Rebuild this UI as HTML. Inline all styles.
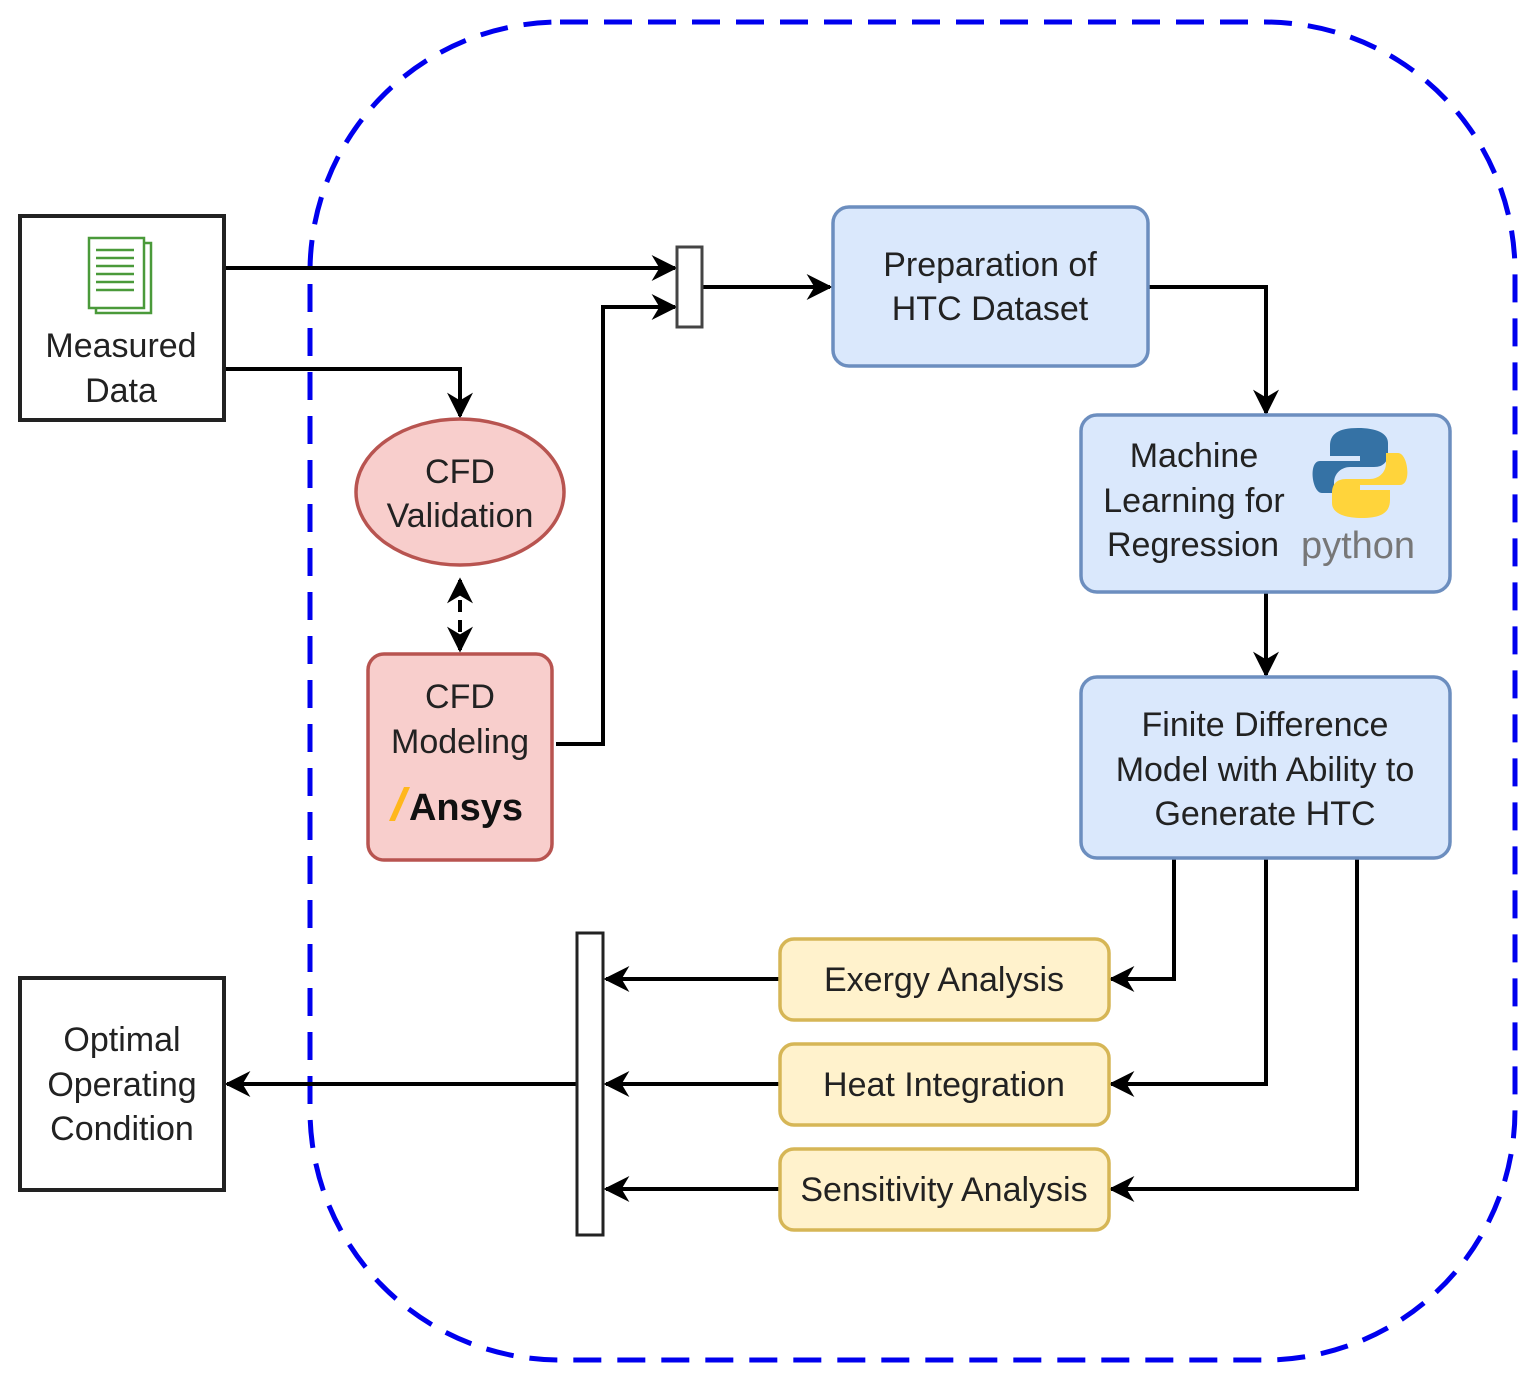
<!DOCTYPE html>
<html><head><meta charset="utf-8"><style>body{margin:0;background:#fff}svg{display:block}text{font-family:"Liberation Sans",sans-serif;fill:#222;font-size:34px;text-anchor:middle}</style></head>
<body>
<svg width="1539" height="1386" viewBox="0 0 1539 1386" xmlns="http://www.w3.org/2000/svg">
<defs>
<marker id="a" viewBox="0 0 10 10" refX="9" refY="5" markerWidth="7" markerHeight="7" orient="auto-start-reverse" markerUnits="userSpaceOnUse" style="overflow:visible">
<path d="M0,0 L10,5 L0,10 L3,5 Z" fill="#000"/></marker>
<marker id="b" viewBox="0 0 10 10" refX="9" refY="5" markerWidth="26" markerHeight="26" orient="auto-start-reverse" markerUnits="userSpaceOnUse">
<path d="M0,0 L10,5 L0,10 L3,5 Z" fill="#000"/></marker>
</defs>
<rect x="310" y="22" width="1205" height="1338" rx="250" fill="none" stroke="#0000ee" stroke-width="5" stroke-dasharray="28 16"/>
<g fill="none" stroke="#000" stroke-width="4" marker-end="url(#b)">
<path d="M224,268 H675"/>
<path d="M224,369 H460 V416"/>
<path d="M556,744 H603 V307 H675"/>
<path d="M702,287 H830"/>
<path d="M1148,287 H1266 V413"/>
<path d="M1266,592 V675"/>
<path d="M1174,858 V979 H1111"/>
<path d="M1266,858 V1084 H1111"/>
<path d="M1357,858 V1189 H1111"/>
<path d="M780,979 H606"/>
<path d="M780,1084 H606"/>
<path d="M780,1189 H606"/>
<path d="M577,1084 H227"/>
<path d="M460,580 V650" stroke-dasharray="12 8" marker-start="url(#b)"/>
</g>
<rect x="20" y="216" width="204" height="204" fill="#fff" stroke="#222" stroke-width="4"/>
<g stroke="#4a9a3a" stroke-width="2.5" fill="#fff">
<rect x="96" y="243" width="55" height="70"/><rect x="89" y="238" width="55" height="70"/>
<path d="M96,250h38M96,258h38M96,266h38M96,274h38M96,282h38M96,290h38" stroke-width="2.5"/>
</g>
<text x="121" y="357">Measured</text><text x="121" y="402">Data</text>
<rect x="20" y="978" width="204" height="212" fill="#fff" stroke="#222" stroke-width="4"/>
<text x="122" y="1051">Optimal</text><text x="122" y="1096">Operating</text><text x="122" y="1140">Condition</text>
<rect x="677" y="247" width="25" height="80" fill="#fff" stroke="#444" stroke-width="3"/>
<rect x="577" y="933" width="26" height="302" fill="#fff" stroke="#222" stroke-width="3"/>
<g fill="#dae8fc" stroke="#6c8ebf" stroke-width="3.5">
<rect x="833" y="207" width="315" height="159" rx="16"/>
<rect x="1081" y="415" width="369" height="177" rx="16"/>
<rect x="1081" y="677" width="369" height="181" rx="16"/>
</g>
<text x="990" y="276">Preparation of</text><text x="990" y="320">HTC Dataset</text>
<text x="1194" y="467">Machine</text><text x="1194" y="512">Learning for</text><text x="1193" y="556">Regression</text>
<path d="M1358,428 c-20,0 -28,6 -28,18 v10 h30 v5 h-40 c-12,0 -8,32 2,32 h12 v-10 c0,-10 8,-16 16,-16 h24 c10,0 14,-6 14,-14 v-10 c0,-10 -12,-15 -30,-15z" fill="#3572a5"/>
<path d="M1362,518 c20,0 28,-6 28,-18 v-10 h-30 v-5 h40 c12,0 8,-32 -2,-32 h-12 v10 c0,10 -8,16 -16,16 h-24 c-10,0 -14,6 -14,14 v10 c0,10 12,15 30,15z" fill="#ffd43b"/>
<text x="1358" y="558" style="fill:#777;font-size:38px">python</text>
<text x="1265" y="736">Finite Difference</text><text x="1265" y="781">Model with Ability to</text><text x="1265" y="825">Generate HTC</text>
<ellipse cx="460" cy="492" rx="104" ry="73" fill="#f8cecc" stroke="#b85450" stroke-width="3.5"/>
<text x="460" y="483">CFD</text><text x="460" y="527">Validation</text>
<rect x="368" y="654" width="184" height="206" rx="16" fill="#f8cecc" stroke="#b85450" stroke-width="3.5"/>
<text x="460" y="708">CFD</text><text x="460" y="753">Modeling</text>
<path d="M389,821 L404,787 L410,787 L395,821 Z" fill="#ffb71b"/>
<text x="466" y="820" style="font-weight:bold;font-size:38px;fill:#111">Ansys</text>
<g fill="#fff2cc" stroke="#d6b656" stroke-width="3.5">
<rect x="780" y="939" width="329" height="81" rx="14"/>
<rect x="780" y="1044" width="329" height="81" rx="14"/>
<rect x="780" y="1149" width="329" height="81" rx="14"/>
</g>
<text x="944" y="991">Exergy Analysis</text>
<text x="944" y="1096">Heat Integration</text>
<text x="944" y="1201">Sensitivity Analysis</text>
</svg>
</body></html>
